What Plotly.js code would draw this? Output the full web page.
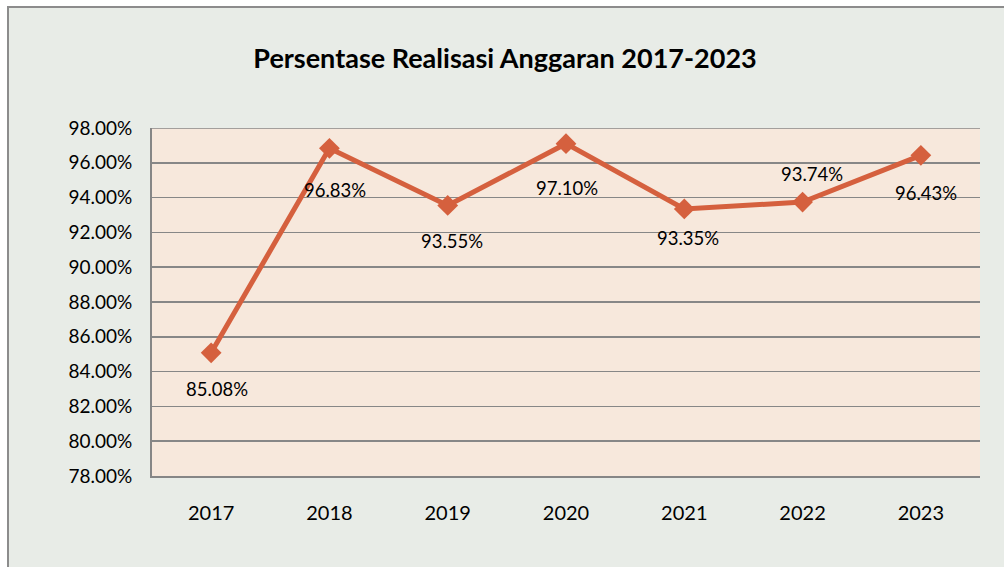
<!DOCTYPE html>
<html>
<head>
<meta charset="utf-8">
<script src="https://cdn.plot.ly/plotly-3.0.1.min.js"></script>
<style>
  html, body { margin: 0; padding: 0; background: #ffffff; overflow: hidden; width: 1004px; height: 567px; }
  #frame { position: absolute; left: 7px; top: 6px; width: 1010px; height: 580px;
           border: 2px solid #8c8c8c; background: #E8ECE7; }
  #chart { position: absolute; left: 0; top: 0; width: 1004px; height: 567px; }
</style>
</head>
<body>
<div id="frame"></div>
<div id="chart"></div>
<script>
const years = ['2017', '2018', '2019', '2020', '2021', '2022', '2023'];
const realisasi = [85.08, 96.83, 93.55, 97.10, 93.35, 93.74, 96.43];
const yTickVals = [78, 80, 82, 84, 86, 88, 90, 92, 94, 96, 98];

const idx = years.map((_, i) => i);

// label placement offsets (pixels)
const labelXShift = [6, 6, 4, 1, 4, 9, 5];
const labelYShift = [-36, -42, -36, -44, -29, 28, -38];

const FONT = 'Lato, "Open Sans", sans-serif';

const trace = {
  x: idx,
  y: realisasi,
  type: 'scatter',
  mode: 'lines+markers',
  line: { color: '#D5603E', width: 5 },
  marker: { symbol: 'diamond', size: 16, color: '#D5603E' },
  hoverinfo: 'skip'
};

const annotations = idx.map(i => ({
  x: i, y: realisasi[i], xref: 'x', yref: 'y',
  text: realisasi[i].toFixed(2) + '%',
  showarrow: false,
  xshift: labelXShift[i], yshift: labelYShift[i],
  font: { family: FONT, size: 18.5, color: '#000000' }
}));

const layout = {
  width: 1004, height: 567,
  margin: { l: 152, r: 24, t: 128, b: 91 },
  paper_bgcolor: 'rgba(0,0,0,0)',
  plot_bgcolor: '#F7E8DC',
  showlegend: false,
  title: {
    text: '<b>Persentase Realisasi Anggaran 2017-2023</b>',
    x: 0.503, xanchor: 'center', y: 0.897, yanchor: 'middle',
    font: { family: FONT, size: 27, color: '#000000' }
  },
  xaxis: {
    type: 'linear',
    range: [-0.5, 6.5],
    tickvals: idx,
    ticktext: years,
    showgrid: false,
    zeroline: false,
    showline: true, linecolor: '#868686', linewidth: 2,
    ticks: '', ticklabelstandoff: 18,
    tickfont: { family: FONT, size: 20, color: '#000000' },
    fixedrange: true
  },
  yaxis: {
    range: [78, 98],
    tickvals: yTickVals,
    ticktext: yTickVals.map(v => v.toFixed(2) + '%'),
    showgrid: true, gridcolor: '#878787', gridwidth: 1.5,
    showline: true, linecolor: '#868686', linewidth: 2,
    zeroline: false,
    ticks: '', ticklabelstandoff: 14,
    tickfont: { family: FONT, size: 19, color: '#000000' },
    fixedrange: true
  },
  shapes: [{
    type: 'line', xref: 'paper', yref: 'y', x0: 0, x1: 1, y0: 98, y1: 98,
    line: { color: '#878787', width: 1.5 }
  }],
  annotations: annotations
};

Plotly.newPlot('chart', [trace], layout, { displayModeBar: false, staticPlot: true });
</script>
</body>
</html>
